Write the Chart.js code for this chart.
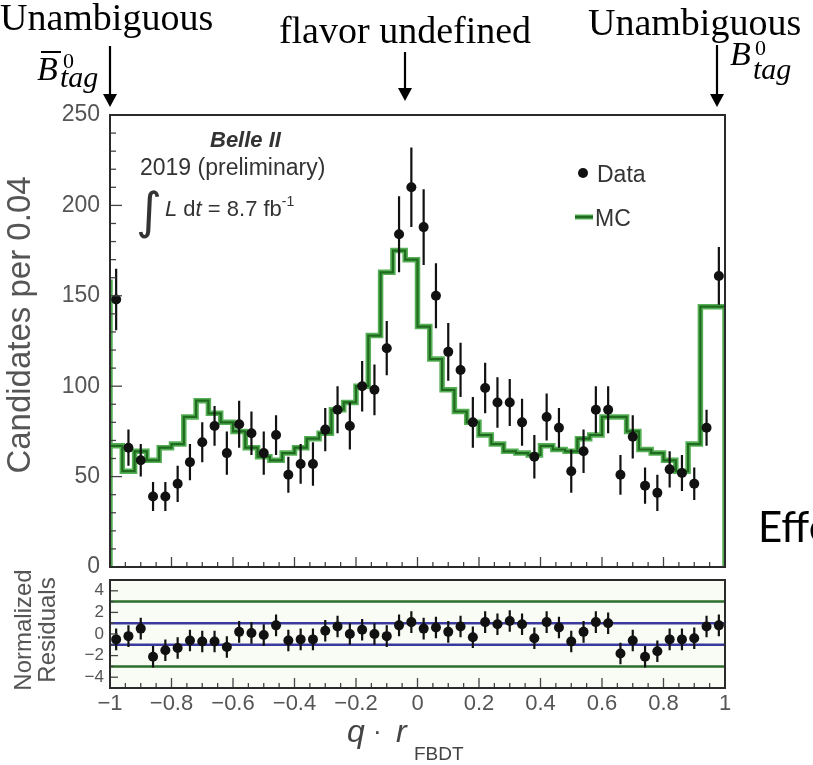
<!DOCTYPE html>
<html><head><meta charset="utf-8">
<script src="https://cdn.jsdelivr.net/npm/chart.js@4/dist/chart.umd.min.js"></script>
<style>
html,body{margin:0;padding:0;background:#fff;}
#wrap{position:relative;width:813px;height:765px;overflow:hidden;}
canvas,svg{position:absolute;left:0;top:0;}
</style></head><body>
<div id="wrap">
<canvas id="main" width="813" height="765"></canvas>
<canvas id="res" width="813" height="765"></canvas>
<svg width="813" height="765" font-family="Liberation Sans, Arial, sans-serif">
  <!-- top annotations -->
  <g font-family="Liberation Serif, serif" fill="#000">
    <text x="0" y="30" font-size="38">Unambiguous</text>
    <text x="405" y="43" font-size="38" text-anchor="middle">flavor undefined</text>
    <text x="588" y="35" font-size="38">Unambiguous</text>
    <text x="37" y="80" font-size="34" font-style="italic">B</text>
    <text x="63" y="68" font-size="22">0</text>
    <text x="60" y="87" font-size="30" font-style="italic">tag</text>
    <text x="730" y="65" font-size="34" font-style="italic">B</text>
    <text x="755" y="55" font-size="22">0</text>
    <text x="753" y="79" font-size="30" font-style="italic">tag</text>
  </g>
  <line x1="41" y1="52" x2="61" y2="52" stroke="#000" stroke-width="2"/>
  <g stroke="#000" stroke-width="2.2">
    <line x1="110" y1="46" x2="110" y2="96"/>
    <line x1="405" y1="52" x2="405" y2="90"/>
    <line x1="717" y1="45" x2="717" y2="96"/>
  </g>
  <g fill="#000">
    <polygon points="103,94 117,94 110,107"/>
    <polygon points="398,88 412,88 405,101"/>
    <polygon points="710,94 724,94 717,107"/>
  </g>
  <!-- in-plot text -->
  <g fill="#333">
    <text x="210" y="147" font-size="22" font-weight="bold" font-style="italic">Belle II</text>
    <text x="140" y="175" font-size="23">2019 (preliminary)</text>
    <text x="136" y="228" font-size="50" font-family="DejaVu Sans, sans-serif">∫</text>
    <text x="165" y="216" font-size="22"><tspan font-style="italic">L</tspan> d<tspan font-style="italic">t</tspan> = 8.7 fb<tspan dy="-10" font-size="14">-1</tspan></text>
  </g>
  <!-- legend -->
  <circle cx="583" cy="173" r="5" fill="#111"/>
  <text x="597" y="182" font-size="23" fill="#333">Data</text>
  <line x1="575" y1="217" x2="593" y2="217" stroke="#55b055" stroke-width="5"/>
  <line x1="575" y1="217" x2="593" y2="217" stroke="#1f6a1f" stroke-width="2.5"/>
  <text x="595" y="226" font-size="23" fill="#333">MC</text>
  <!-- axis titles -->
  <text transform="translate(30,325) rotate(-90)" text-anchor="middle" font-size="33" fill="#555">Candidates per 0.04</text>
  <text transform="translate(31,630) rotate(-90)" text-anchor="middle" font-size="24" fill="#555">Normalized</text>
  <text transform="translate(55,630) rotate(-90)" text-anchor="middle" font-size="24" fill="#555">Residuals</text>
  <text x="347" y="742" font-size="32" font-style="italic" fill="#444">q</text>
  <text x="373" y="740" font-size="26" fill="#444">·</text>
  <text x="396" y="742" font-size="32" font-style="italic" fill="#444">r</text>
  <text x="414" y="760" font-size="19" fill="#444">FBDT</text>
  <text x="758" y="542" font-size="42" font-family="Lato, Open Sans, sans-serif" fill="#000">Effe</text>
</svg>
</div>
<script>
// ---- data ----
const binLow = -1;
const binWidth = 0.04;
const xTickValues = [-1, -0.8, -0.6, -0.4, -0.2, 0, 0.2, 0.4, 0.6, 0.8, 1];
const mainYTickValues = [0, 50, 100, 150, 200, 250];
const resYTickValues = [-4, -2, 0, 2, 4];
const dataCounts = [148, 66, 59, 39, 39, 46, 58, 69, 78, 63, 79, 74, 63, 73, 51, 57, 57, 76, 87, 78,
  100, 98, 121, 184, 210, 188, 150, 119, 109, 80, 99, 91, 91, 80, 61, 83, 77, 53, 64, 87,
  87, 51, 72, 45, 41, 54, 52, 46, 77, 161];
const dataErrors = [17, 10, 9, 8, 8, 10, 10, 11, 11, 12, 13, 12, 12, 11, 10, 11, 12, 12, 13, 13,
  14, 14, 15, 21, 22, 21, 18, 16, 15, 14, 14, 14, 13, 13, 12, 13, 11, 12, 12, 13,
  13, 11, 12, 10, 10, 10, 10, 9, 10, 16];
const mcCounts = [159, 67, 53, 64, 59, 66, 68, 83, 92, 85, 80, 75, 66, 61, 59, 63, 66, 71, 74, 87,
  91, 100, 128, 163, 175, 170, 133, 115, 98, 86, 80, 73, 68, 64, 63, 62, 67, 65, 64, 71,
  73, 83, 83, 75, 65, 63, 59, 53, 68, 144];
const residuals = [-0.5, -0.2, 0.5, -2.1, -1.5, -1.3, -0.6, -0.7, -0.7, -1.2, 0.2, 0.1, -0.1, 0.8, -0.6, -0.5, -0.5, 0.3, 0.7, 0.0,
  0.4, 0.0, -0.2, 0.8, 1.1, 0.5, 0.6, 0.2, 0.7, -0.3, 1.1, 0.9, 1.2, 0.9, -0.4, 1.1, 0.6, -0.7, 0.2, 1.1,
  1.0, -1.8, -0.6, -2.1, -1.6, -0.5, -0.5, -0.4, 0.7, 0.8];
const residualError = 1;
const sigma3Lines = [3, -3];
const sigma1Lines = [1, -1];

// ---- build library data ----
const binCenter = i => binLow + (i + 0.5) * binWidth;
const binEdge = i => binLow + i * binWidth;
const dataPts = dataCounts.map((v, i) => ({x: binCenter(i), y: v}));
const errPts = [];
dataCounts.forEach((v, i) => {
  errPts.push({x: binCenter(i), y: v - dataErrors[i]}, {x: binCenter(i), y: v + dataErrors[i]}, {x: binCenter(i), y: null});
});
const mcPts = [{x: binEdge(0), y: 0}];
mcCounts.forEach((v, i) => mcPts.push({x: binEdge(i), y: v}));
mcPts.push({x: binEdge(mcCounts.length), y: mcCounts[mcCounts.length - 1]});
mcPts.push({x: binEdge(mcCounts.length), y: 0});

const resPts = residuals.map((v, i) => ({x: binCenter(i), y: v}));
const resErrPts = [];
residuals.forEach((v, i) => {
  resErrPts.push({x: binCenter(i), y: v - residualError}, {x: binCenter(i), y: v + residualError}, {x: binCenter(i), y: null});
});
const hLine = y => [{x: -1, y}, {x: 1, y}];

function fmt(v) {
  const r = Math.round(v * 10) / 10;
  if (r === 0) return '0';
  return r < 0 ? '\u2212' + Math.abs(r) : String(r);
}

const framePlugin = {
  id: 'frame',
  beforeDatasetsDraw(chart, args, o) {
    if (o.bg) {
      const a = chart.chartArea;
      chart.ctx.save();
      chart.ctx.fillStyle = o.bg;
      chart.ctx.fillRect(a.left, a.top, a.width, a.height);
      chart.ctx.restore();
    }
  },
  afterDraw(chart, args, o) {
    const {ctx, chartArea: a, scales} = chart;
    ctx.save();
    ctx.strokeStyle = '#444';
    ctx.lineWidth = 1.3;
    (o.xTicks || []).forEach(([v, len]) => {
      const px = scales.x.getPixelForValue(v);
      ctx.beginPath(); ctx.moveTo(px, a.bottom); ctx.lineTo(px, a.bottom - len); ctx.stroke();
    });
    (o.yTicks || []).forEach(([v, len]) => {
      const py = scales.y.getPixelForValue(v);
      ctx.beginPath(); ctx.moveTo(a.left, py); ctx.lineTo(a.left + len, py); ctx.stroke();
    });
    ctx.lineWidth = 2;
    ctx.strokeStyle = '#2a2a2a';
    ctx.strokeRect(a.left, a.top, a.width, a.height);
    ctx.restore();
  }
};

const xInnerTicks = [];
for (let k = 0; k <= 40; k++) xInnerTicks.push([-1 + k * 0.05, k % 4 === 0 ? 10 : 5]);
const yMainInner = [];
for (let v = 0; v <= 250; v += 10) yMainInner.push([v, v % 50 === 0 ? 12 : 6]);
const yResInner = [];
for (let v = -5; v <= 5; v += 1) yResInner.push([v, v % 2 === 0 ? 8 : 4]);

const tickFont = {family: 'Liberation Sans, Arial, sans-serif', size: 23};

new Chart(document.getElementById('main'), {
  type: 'scatter',
  data: {datasets: [
    {label: 'Data', data: dataPts, pointRadius: 5, pointBackgroundColor: '#111', pointBorderWidth: 0, order: 0},
    {type: 'line', label: 'err', data: errPts, pointRadius: 0, borderColor: '#111', borderWidth: 2.2, spanGaps: false, order: 1},
    {type: 'line', label: 'MC', data: mcPts, stepped: 'after', pointRadius: 0, borderColor: '#1f6a1f', borderWidth: 2.2, order: 2},
    {type: 'line', label: 'MC halo', data: mcPts, stepped: 'after', pointRadius: 0, borderColor: '#55b055', borderWidth: 5.5, order: 3}
  ]},
  options: {
    responsive: false, animation: false, events: [],
    layout: {padding: {left: 0, top: 115, right: 88, bottom: 198}},
    plugins: {legend: {display: false}, tooltip: {enabled: false},
      frame: {xTicks: xInnerTicks, yTicks: yMainInner}},
    scales: {
      x: {type: 'linear', min: -1, max: 1, display: false},
      y: {type: 'linear', min: 0, max: 250,
        afterBuildTicks: s => { s.ticks = mainYTickValues.map(v => ({value: v})); },
        afterFit: s => { s.width = 110; },
        ticks: {font: tickFont, color: '#555', padding: 10},
        grid: {display: false, drawTicks: false}, border: {display: false}}
    }
  },
  plugins: [framePlugin]
});

new Chart(document.getElementById('res'), {
  type: 'scatter',
  data: {datasets: [
    {label: 'Residuals', data: resPts, pointRadius: 5, pointBackgroundColor: '#111', pointBorderWidth: 0, order: 0},
    {type: 'line', label: 'err', data: resErrPts, pointRadius: 0, borderColor: '#111', borderWidth: 2.2, spanGaps: false, order: 1},
    {type: 'line', label: '+1', data: hLine(sigma1Lines[0]), pointRadius: 0, borderColor: '#3a3a9e', borderWidth: 2.5, order: 2},
    {type: 'line', label: '-1', data: hLine(sigma1Lines[1]), pointRadius: 0, borderColor: '#3a3a9e', borderWidth: 2.5, order: 2},
    {type: 'line', label: '+3', data: hLine(sigma3Lines[0]), pointRadius: 0, borderColor: '#2c6e2c', borderWidth: 2.5, order: 2},
    {type: 'line', label: '-3', data: hLine(sigma3Lines[1]), pointRadius: 0, borderColor: '#2c6e2c', borderWidth: 2.5, order: 2}
  ]},
  options: {
    responsive: false, animation: false, events: [],
    layout: {padding: {left: 0, top: 580, right: 88, bottom: 0}},
    plugins: {legend: {display: false}, tooltip: {enabled: false},
      frame: {xTicks: xInnerTicks, yTicks: yResInner, bg: '#f8fcf5'}},
    scales: {
      x: {type: 'linear', min: -1, max: 1,
        afterBuildTicks: s => { s.ticks = xTickValues.map(v => ({value: v})); },
        afterFit: s => { s.height = 77; },
        ticks: {font: {family: 'Liberation Sans, Arial, sans-serif', size: 22}, color: '#555', padding: 3,
          autoSkip: false, maxRotation: 0, callback: v => fmt(v)},
        grid: {display: false, drawTicks: false}, border: {display: false}},
      y: {type: 'linear', min: -5, max: 5,
        afterBuildTicks: s => { s.ticks = resYTickValues.map(v => ({value: v})); },
        afterFit: s => { s.width = 110; },
        ticks: {font: {family: 'Liberation Sans, Arial, sans-serif', size: 17}, color: '#555', padding: 6,
          callback: v => fmt(v)},
        grid: {display: false, drawTicks: false}, border: {display: false}}
    }
  },
  plugins: [framePlugin]
});
</script>
</body></html>
